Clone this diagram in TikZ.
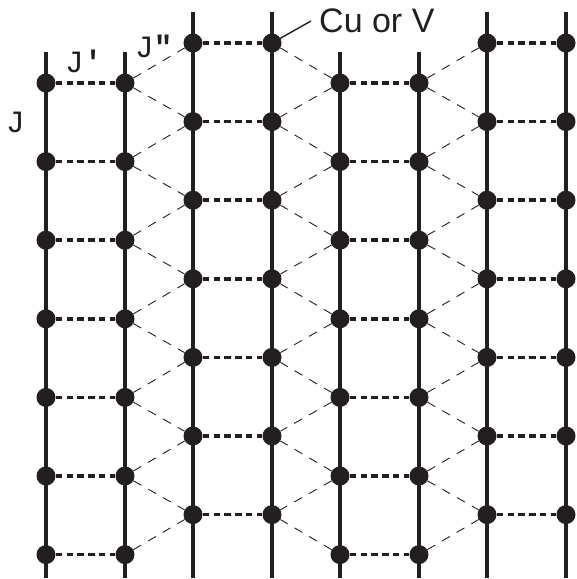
\documentclass[tikz,border=0pt]{standalone}
\usepackage{fontspec}
\setmainfont{Liberation Sans}
\newfontfamily\monof{Liberation Mono}
\pgfdeclarelayer{bg}
\pgfsetlayers{bg,main}
\definecolor{ink}{HTML}{231F20}
\tikzset{
  dot/.style={circle,fill=ink,draw=none,minimum size=19pt,inner sep=0pt},
  chain/.style={draw=ink,line width=3.2pt},
  rung/.style={draw=ink,line width=3.6pt,dash pattern=on 6.5pt off 4.3pt},
  diag/.style={draw=ink,line width=0.9pt,dash pattern=on 9pt off 8pt},
  lead/.style={draw=ink,line width=1.4pt},
  jl/.style={font=\monof\fontsize{31}{31}\selectfont,text=ink,inner sep=0pt,anchor=base west},
  cul/.style={font=\fontsize{34}{34}\selectfont,text=ink,inner sep=0pt,anchor=base west}
}
\begin{document}
\begin{tikzpicture}[x=1pt,y=-1pt]
\useasboundingbox (0,0) rectangle (577,579);
% dots and chain end points
\foreach \c/\x/\y in {1/46/83,2/125/83,3/193/43,4/272/43,5/340/83,6/419/83,7/487/43,8/566/43}{
  \coordinate (t\c) at (\x,{\y-31});
  \coordinate (b\c) at (\x,578);
  \foreach \k in {0,...,6}{
    \node[dot] (n\c-\k) at (\x,{\y+78.6*\k}) {};
  }
}
\begin{pgfonlayer}{bg}
  % chains
  \foreach \c in {1,...,8}{ \draw[chain] (t\c) -- (b\c); }
  % rungs
  \foreach \k in {0,...,6}{
    \draw[rung] (n1-\k) -- (n2-\k);
    \draw[rung] (n3-\k) -- (n4-\k);
    \draw[rung] (n5-\k) -- (n6-\k);
    \draw[rung] (n7-\k) -- (n8-\k);
    \draw[diag] (n2-\k) -- (n3-\k);
    \draw[diag] (n5-\k) -- (n4-\k);
    \draw[diag] (n6-\k) -- (n7-\k);
  }
  \foreach \k [evaluate=\k as \kk using int(\k+1)] in {0,...,5}{
    \draw[diag] (n2-\k) -- (n3-\kk);
    \draw[diag] (n5-\k) -- (n4-\kk);
    \draw[diag] (n6-\k) -- (n7-\kk);
  }
\end{pgfonlayer}
% label
\coordinate (cuend) at (311,21);
\draw[lead] (n4-0.center) -- (cuend);
\node[cul] (cu) at (319,32) {Cu or V};
\node[jl] (jA) at (6,132) {J};
\node[jl] (jB) at (65,72) {J{\bfseries\char"27}};
\node[jl] (jC) at (135,57) {J{\bfseries\char"22}};
\end{tikzpicture}
\end{document}
